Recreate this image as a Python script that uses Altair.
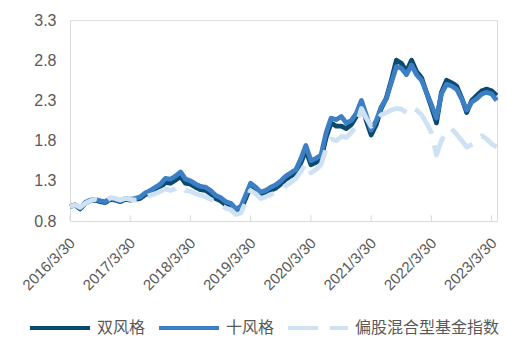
import altair as alt
import pandas as pd

series_names = ["双风格", "十风格", "偏股混合型基金指数"]
series_colors = ["#0b4a6f", "#3d7fc4", "#cfe2f3"]
tick_dates = ["2016-03-30", "2017-03-30", "2018-03-30", "2019-03-30",
              "2020-03-30", "2021-03-30", "2022-03-30", "2023-03-30"]
y_ticks = [0.8, 1.3, 1.8, 2.3, 2.8, 3.3]

# monthly net values, 2016-03 .. 2023-04
dual = [0.98, 1.00, 0.95, 1.02, 1.05, 1.06, 1.04, 1.03, 1.07, 1.06,
        1.04, 1.07, 1.06, 1.07, 1.08, 1.13, 1.15, 1.19, 1.22, 1.28,
        1.27, 1.31, 1.35, 1.27, 1.26, 1.22, 1.19, 1.18, 1.14, 1.08,
        1.05, 1.00, 0.98, 0.91, 0.94, 1.08, 1.23, 1.18, 1.12, 1.14,
        1.18, 1.21, 1.26, 1.32, 1.36, 1.40, 1.53, 1.68, 1.50, 1.53,
        1.57, 1.84, 2.02, 1.98, 1.98, 1.95, 2.00, 2.10, 2.28, 2.05,
        1.87, 2.00, 2.20, 2.33, 2.55, 2.80, 2.76, 2.66, 2.80, 2.66,
        2.58, 2.40, 2.22, 2.02, 2.40, 2.55, 2.52, 2.48, 2.33, 2.15,
        2.30, 2.36, 2.42, 2.44, 2.42, 2.36]
ten = [0.98, 1.00, 0.96, 1.03, 1.06, 1.07, 1.05, 1.04, 1.08, 1.07,
       1.05, 1.08, 1.07, 1.08, 1.10, 1.15, 1.18, 1.22, 1.26, 1.33,
       1.32, 1.36, 1.41, 1.32, 1.30, 1.26, 1.23, 1.22, 1.18, 1.12,
       1.09, 1.04, 1.02, 0.95, 0.98, 1.12, 1.27, 1.22, 1.16, 1.18,
       1.22, 1.25, 1.30, 1.36, 1.40, 1.44, 1.58, 1.74, 1.55, 1.58,
       1.62, 1.90, 2.08, 2.06, 2.10, 2.02, 2.05, 2.14, 2.30, 2.12,
       1.93, 2.05, 2.22, 2.32, 2.52, 2.72, 2.70, 2.62, 2.74, 2.62,
       2.55, 2.40, 2.25, 2.08, 2.38, 2.50, 2.48, 2.44, 2.32, 2.18,
       2.28, 2.32, 2.38, 2.40, 2.38, 2.30]
index_vals = [0.98, 1.00, 0.97, 1.02, 1.05, 1.07, 1.05, 1.04, 1.09, 1.08,
              1.06, 1.08, 1.07, 1.06, 1.07, 1.10, 1.12, 1.14, 1.17, 1.20,
              1.18, 1.20, 1.24, 1.18, 1.17, 1.14, 1.12, 1.10, 1.07, 1.03,
              1.00, 0.96, 0.94, 0.88, 0.90, 1.03, 1.18, 1.14, 1.08, 1.10,
              1.13, 1.15, 1.20, 1.24, 1.28, 1.33, 1.42, 1.52, 1.40, 1.44,
              1.50, 1.70, 1.82, 1.80, 1.85, 1.84, 1.90, 1.98, 2.20, 2.08,
              1.98, 2.05, 2.12, 2.15, 2.18, 2.20, 2.19, 2.15, 2.22, 2.18,
              2.12, 2.02, 1.90, 1.62, 1.80, 1.92, 1.95, 1.88, 1.80, 1.72,
              1.75, 1.78, 1.86, 1.82, 1.76, 1.72]

dates = []
for i in range(len(ten)):
    mm = 3 + i
    yy = 2016 + (mm - 1) // 12
    m = (mm - 1) % 12 + 1
    d = 28 if m == 2 else 30
    dates.append(f"{yy}-{m:02d}-{d:02d}")

rows = []
for name, vals in zip(series_names, [dual, ten, index_vals]):
    for dstr, v in zip(dates, vals):
        rows.append({"date": dstr, "series": name, "value": v})
df = pd.DataFrame(rows)
tick_df = pd.DataFrame({"date": tick_dates})

FONT = "Liberation Sans, Noto Sans CJK SC, sans-serif"
GRAY = "#595959"

def dt(s):
    y, m, d = [int(p) for p in s.split("-")]
    return alt.DateTime(year=y, month=m, date=d, utc=True)

legend = alt.Legend(orient="none", legendX=-42, legendY=276, direction="horizontal",
                    title=None, symbolType="stroke", symbolSize=3600, symbolStrokeWidth=4,
                    labelFontSize=16, labelColor=GRAY, labelFont=FONT,
                    columnPadding=5, labelOffset=5, padding=0)

x_enc = alt.X("date:T",
              scale=alt.Scale(type="utc", domain=[dt("2016-03-30"), dt("2023-05-02")], nice=False),
              axis=alt.Axis(values=[dt(s) for s in tick_dates],
                            labelExpr="utcFormat(datum.value, '%Y/%-m/%-d')",
                            labelAngle=-45, labelFontSize=15, labelColor=GRAY, labelFont=FONT,
                            labelOverlap=False, labelBound=False, labelFlush=False,
                            domainColor="#d9d9d9", tickSize=0, grid=False, title=None,
                            labelPadding=14, labelOffset=-3))
y_enc = alt.Y("value:Q",
              scale=alt.Scale(domain=[0.8, 3.3], nice=False, zero=False),
              axis=alt.Axis(values=y_ticks, format=".1f", domain=False, ticks=False, grid=False,
                            labelFontSize=16, labelColor=GRAY, labelFont=FONT, labelPadding=14,
                            title=None))
color_enc = alt.Color("series:N", scale=alt.Scale(domain=series_names, range=series_colors), legend=legend)
dash_enc = alt.StrokeDash("series:N", scale=alt.Scale(domain=series_names, range=[[1, 0], [1, 0], [30, 12]]),
                          legend=legend)

layers = []
for name in series_names:
    layers.append(
        alt.Chart(df).transform_filter(alt.datum.series == name)
        .mark_line(strokeWidth=4.8, strokeJoin="round")
        .encode(x=x_enc, y=y_enc, color=color_enc, strokeDash=dash_enc)
    )

ticks = alt.Chart(tick_df).mark_rule(color="#d9d9d9", strokeWidth=1).encode(
    x=x_enc, y=alt.YDatum(0.8), y2=alt.Y2Datum(0.87))

chart = alt.layer(*layers, ticks).properties(
    width=427, height=201,
    autosize=alt.AutoSizeParams(type="none"),
    padding={"left": 70, "top": 20, "right": 10, "bottom": 127},
    background="white",
).configure_view(stroke=None).configure(font=FONT)

chart.save("out.html", embed_options={"renderer": "svg", "actions": False})
